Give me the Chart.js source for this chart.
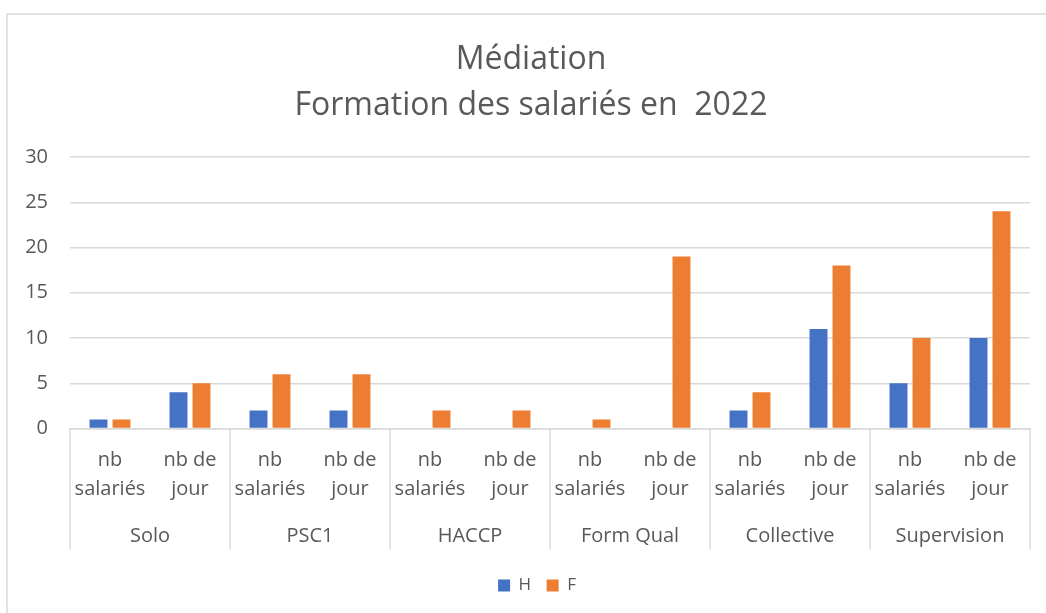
<!DOCTYPE html>
<html>
<head>
<meta charset="utf-8">
<script src="https://cdn.jsdelivr.net/npm/chart.js@4"></script>
<style>
  html, body { margin: 0; padding: 0; background: #fff; }
  #wrap { width: 1046px; height: 613px; }
</style>
</head>
<body>
<div id="wrap"><canvas id="chart" width="1046" height="613"></canvas></div>
<script>
// data
const groups = ['Solo', 'PSC1', 'HACCP', 'Form Qual', 'Collective', 'Supervision'];
const subLabels = [['nb', 'salariés'], ['nb de', 'jour']];
const hValues = [1, 4, 2, 2, 0, 0, 0, 0, 2, 11, 5, 10];
const fValues = [1, 5, 6, 6, 2, 2, 1, 19, 4, 18, 10, 24];
const yTicks = [0, 5, 10, 15, 20, 25, 30];

const labels = [];
groups.forEach(function() {
    subLabels.forEach(function(s) { labels.push(s); });
});

const FONT = 'Open Sans';
const TEXT = '#595959';
const LINE = '#d9d9d9';

// frame + group labels + separators under the axis
const groupAxis = {
    id: 'groupAxis',
    afterLayout: function(chart) {
        // excel centres title and legend a bit right of the canvas middle
        if (chart.titleBlock) chart.titleBlock.left = 32;
        if (chart.legend) chart.legend.left = 44;
    },
    beforeDraw: function(chart) {
        const ctx = chart.ctx;
        ctx.save();
        ctx.strokeStyle = LINE;
        ctx.lineWidth = 1.5;
        ctx.beginPath();
        ctx.moveTo(7, 613);
        ctx.lineTo(7, 14);
        ctx.lineTo(1046, 14);
        ctx.stroke();
        ctx.restore();
    },
    afterDraw: function(chart) {
        const x = chart.scales.x;
        const ctx = chart.ctx;
        const per = subLabels.length;
        const top = x.top;
        const bottom = x.top + 121;
        ctx.save();
        ctx.strokeStyle = LINE;
        ctx.lineWidth = 1.5;
        for (let g = 0; g <= groups.length; g++) {
            let px;
            if (g === 0) px = x.left;
            else if (g === groups.length) px = x.right;
            else px = (x.getPixelForValue(g * per - 1) + x.getPixelForValue(g * per)) / 2;
            ctx.beginPath();
            ctx.moveTo(px, top);
            ctx.lineTo(px, bottom);
            ctx.stroke();
        }
        ctx.fillStyle = TEXT;
        ctx.font = '20px "' + FONT + '"';
        ctx.textAlign = 'center';
        ctx.textBaseline = 'middle';
        groups.forEach(function(name, g) {
            const cx = (x.getPixelForValue(g * per) + x.getPixelForValue(g * per + per - 1)) / 2;
            ctx.fillText(name, cx, top + 108);
        });
        ctx.restore();
    }
};

new Chart(document.getElementById('chart'), {
    type: 'bar',
    data: {
        labels: labels,
        datasets: [{
            label: 'H',
            data: hValues,
            backgroundColor: '#4472C4',
            categoryPercentage: 0.575,
            barPercentage: 0.78
        }, {
            label: 'F',
            data: fValues,
            backgroundColor: '#ED7D31',
            categoryPercentage: 0.575,
            barPercentage: 0.78
        }]
    },
    plugins: [groupAxis],
    options: {
        responsive: false,
        animation: false,
        layout: { padding: { left: 0, right: 16, top: 0, bottom: 9 } },
        plugins: {
            title: {
                display: true,
                text: ['Médiation', 'Formation des salariés en  2022'],
                color: TEXT,
                font: { family: FONT, size: 32, weight: 'normal', lineHeight: 46 / 32 },
                padding: { top: 37, bottom: 28 }
            },
            legend: {
                position: 'bottom',
                labels: {
                    color: TEXT,
                    font: { family: FONT, size: 17 },
                    boxWidth: 12,
                    boxHeight: 12,
                    padding: 15.5
                }
            },
            tooltip: { enabled: false }
        },
        scales: {
            x: {
                grid: { display: false },
                border: { display: true, color: LINE, width: 1.5 },
                ticks: {
                    color: TEXT,
                    font: { family: FONT, size: 20, lineHeight: 29 / 20 },
                    padding: 9,
                    maxRotation: 0,
                    autoSkip: false
                },
                afterFit: function(scale) { scale.height = 133; }
            },
            y: {
                min: 0,
                max: 30,
                afterBuildTicks: function(scale) {
                    scale.ticks = yTicks.map(function(v) { return { value: v }; });
                },
                grid: { color: LINE, lineWidth: 1.5, drawTicks: false },
                border: { display: false },
                ticks: {
                    color: TEXT,
                    font: { family: FONT, size: 20 },
                    padding: 22
                },
                afterFit: function(scale) { scale.width = 70; }
            }
        }
    }
});
</script>
</body>
</html>
